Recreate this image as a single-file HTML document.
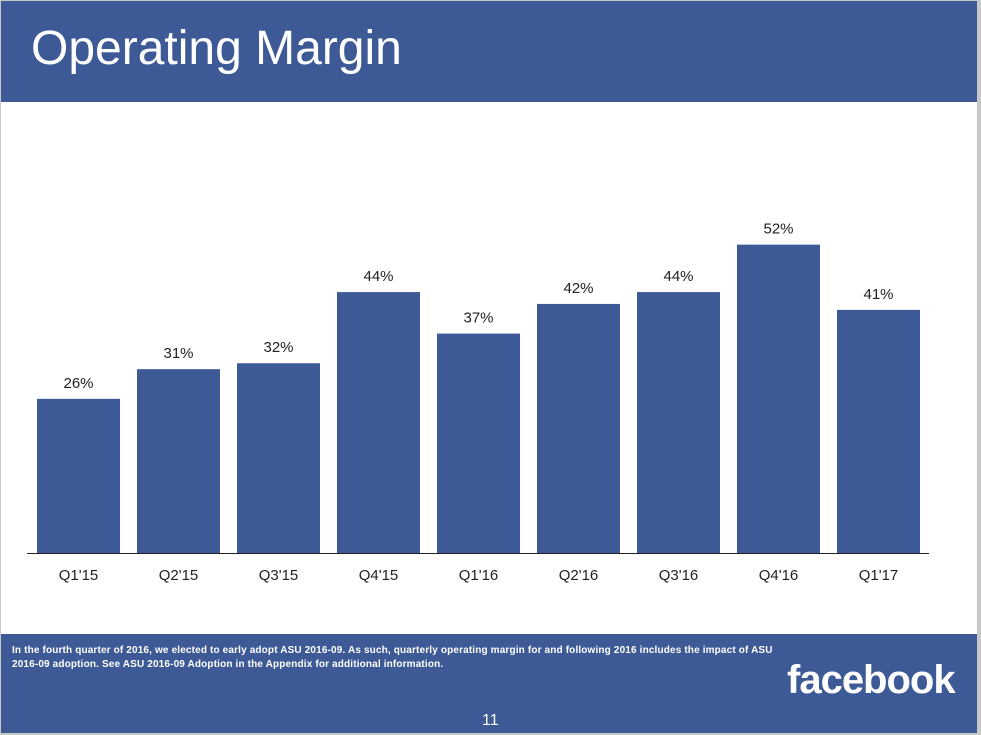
<!DOCTYPE html>
<html><head><meta charset="utf-8"><style>
html,body{margin:0;padding:0;}
body{width:981px;height:735px;position:relative;background:#c8c8c8;font-family:"Liberation Sans",Arial,sans-serif;overflow:hidden;}
#slide{position:absolute;left:1px;top:1px;width:976px;height:732px;background:#fff;}
#hdr{position:absolute;left:0;top:0;width:976px;height:101px;background:#3d5a96;}
#hdr h1{margin:0;position:absolute;left:30px;top:20px;font-size:48px;font-weight:normal;color:#fff;}
#ftr{position:absolute;left:0;top:633px;width:976px;height:99px;background:#3d5a96;color:#fff;}
#note{position:absolute;left:11px;top:10px;font-size:10px;line-height:14px;font-weight:bold;width:800px;letter-spacing:0.15px;white-space:nowrap;}
#logo{position:absolute;left:786px;top:24px;font-size:40px;font-weight:bold;letter-spacing:-1px;}
#pg{position:absolute;left:481px;top:78px;font-size:16px;}
</style></head><body>
<div id="slide">
<div id="hdr"><h1>Operating Margin</h1></div>
<svg id="chart" width="976" height="620" style="position:absolute;left:0;top:0"></svg>
<div id="ftr">
<div id="note">In the fourth quarter of 2016, we elected to early adopt ASU 2016-09. As such, quarterly operating margin for and following 2016 includes the impact of ASU<br>2016-09 adoption. See ASU 2016-09 Adoption in the Appendix for additional information.</div>
<div id="logo">facebook</div>
<div id="pg">11</div>
</div>
</div>
<script>
const categories=["Q1'15","Q2'15","Q3'15","Q4'15","Q1'16","Q2'16","Q3'16","Q4'16","Q1'17"];
const values=[26,31,32,44,37,42,44,52,41];
const valueLabels=["26%","31%","32%","44%","37%","42%","44%","52%","41%"];
const NS="http://www.w3.org/2000/svg";
const svg=document.getElementById('chart');
const base=552,pxPer=5.93,x0=36,step=100,bw=83;
function y(v){return base-v*pxPer;}
function xs(i){return x0+i*step;}
function mk(t,a){const e=document.createElementNS(NS,t);for(const k in a)e.setAttribute(k,a[k]);svg.appendChild(e);return e;}
categories.forEach((c,i)=>{
 const r=mk('rect',{x:xs(i),y:y(values[i]),width:bw,height:base-y(values[i]),fill:'#3d5a96'});
 
 
 const t=mk('text',{x:xs(i)+bw/2,y:y(values[i])-11,'text-anchor':'middle','font-size':15,fill:'#222'});
 t.textContent=valueLabels[i];
 
 
 const l=mk('text',{x:xs(i)+bw/2,y:base+27,'text-anchor':'middle','font-size':15,fill:'#222'});
 l.textContent=c;
 
 
});
const ax=mk('line',{x1:26,x2:928,y1:base+0.5,y2:base+0.5,stroke:'#222','stroke-width':1});


</script>
</body></html>
